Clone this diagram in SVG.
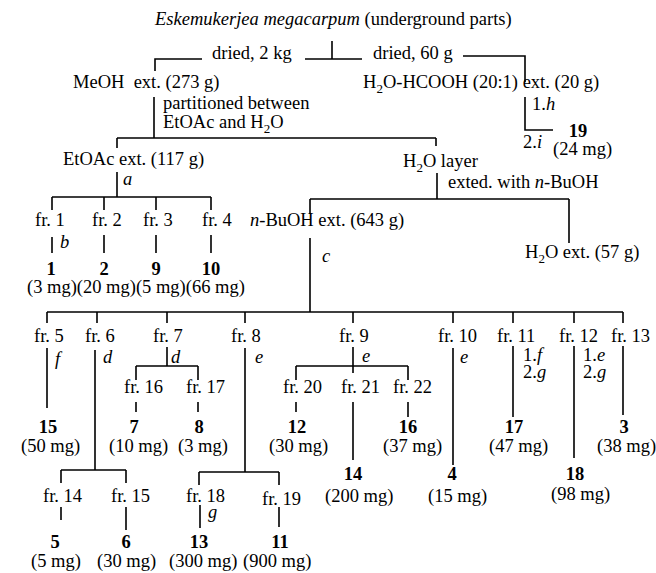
<svg xmlns="http://www.w3.org/2000/svg" width="656" height="573" viewBox="0 0 656 573">
<style>
text{font-family:"Liberation Serif","Times New Roman",serif;font-size:18.5px;fill:#000}
.b{font-weight:bold;text-anchor:middle}
.i{font-style:italic}
.s{font-size:13px}
#connectors path{fill:none;stroke:#000;stroke-width:1.6}
</style>
<rect width="656" height="573" fill="#fff"/>
<g id="connectors">
<path d="M332,41V59M305,59H362M202,59H155V71M463,56H525V82"/>
<path d="M154,97V138M117,138H436M117,138V148M436,138V146M525,97V130H553"/>
<path d="M117,172V197M52,197H211M52,197V210M104,197V210M156,197V210M211,197V210"/>
<path d="M52,237V253M104,235V253M156,235V253M211,235V253"/>
<path d="M437,173V199M310,199H569M569,199V243M310,199V214M310,238V312"/>
<path d="M47,312H623M47,312V323M97,312V323M167,312V323M245,312V323M353,312V323M453,312V323M513,312V323M574,312V323M623,312V323"/>
<path d="M47,348V408M95,350V470M61,470H126M61,470V483M126,470V483M61,507V520M126,507V530"/>
<path d="M167,347V366M136,366H198M136,366V380M198,366V380M136,402V412M198,402V412"/>
<path d="M245,348V472M199,472H279M199,472V485M279,472V485M200,505V528M279,507V527"/>
<path d="M353,347V373M296,366H408M296,366V380M408,366V380M296,402V412M353,402V460M408,402V417"/>
<path d="M453,348V465M513,346V417M574,346V458M623,346V415"/>
</g>
<g id="n-title"><text x="155" y="25"><tspan class="i">Eskemukerjea megacarpum</tspan> (underground parts)</text></g>
<g id="l-dried2kg"><text x="212" y="59">dried, 2 kg</text></g>
<g id="l-dried60g"><text x="373" y="59">dried, 60 g</text></g>
<g id="n-meoh"><text x="73" y="88">MeOH&#160; ext. (273 g)</text></g>
<g id="n-h2ohcooh"><text x="363" y="88">H<tspan class="s" dy="5">2</tspan><tspan dy="-5">O-HCOOH (20:1) ext. (20 g)</tspan></text></g>
<g id="l-partition"><text x="163" y="109">partitioned between</text><text x="163" y="128">EtOAc and H<tspan class="s" dy="5">2</tspan><tspan dy="-5">O</tspan></text></g>
<g id="l-1h"><text x="532" y="110">1.<tspan class="i">h</tspan></text></g>
<g id="n-19"><text x="578" y="137" class="b">19</text><text x="523" y="148">2.<tspan class="i">i</tspan></text><text x="553" y="155">(24 mg)</text></g>
<g id="n-etoac"><text x="63" y="165">EtOAc ext. (117 g)</text></g>
<g id="n-h2olayer"><text x="403" y="167">H<tspan class="s" dy="5">2</tspan><tspan dy="-5">O layer</tspan></text></g>
<g id="l-a"><text x="123" y="185" class="i">a</text></g>
<g id="l-exted"><text x="448" y="188">exted. with <tspan class="i">n</tspan>-BuOH</text></g>
<g id="n-fr1"><text x="35" y="226">fr. 1</text></g>
<g id="n-fr2"><text x="92" y="226">fr. 2</text></g>
<g id="n-fr3"><text x="143" y="226">fr. 3</text></g>
<g id="n-fr4"><text x="202" y="226">fr. 4</text></g>
<g id="n-buoh"><text x="250" y="226"><tspan class="i">n</tspan>-BuOH ext. (643 g)</text></g>
<g id="l-b"><text x="60" y="248" class="i">b</text></g>
<g id="n-h2oext"><text x="525" y="258">H<tspan class="s" dy="5">2</tspan><tspan dy="-5">O ext. (57 g)</tspan></text></g>
<g id="l-c"><text x="322" y="262" class="i">c</text></g>
<g id="n-c1"><text x="51" y="275" class="b">1</text></g>
<g id="n-c2"><text x="104" y="275" class="b">2</text></g>
<g id="n-c9"><text x="156" y="275" class="b">9</text></g>
<g id="n-c10"><text x="211" y="275" class="b">10</text></g>
<g id="l-masses1"><text x="27" y="293">(3 mg)(20 mg)(5 mg)(66 mg)</text></g>
<g id="n-fr5"><text x="34" y="342">fr. 5</text></g>
<g id="n-fr6"><text x="85" y="342">fr. 6</text></g>
<g id="n-fr7"><text x="153" y="342">fr. 7</text></g>
<g id="n-fr8"><text x="231" y="342">fr. 8</text></g>
<g id="n-fr9"><text x="339" y="342">fr. 9</text></g>
<g id="n-fr10"><text x="438" y="342">fr. 10</text></g>
<g id="n-fr11"><text x="497" y="342">fr. 11</text></g>
<g id="n-fr12"><text x="559" y="342">fr. 12</text></g>
<g id="n-fr13"><text x="611" y="342">fr. 13</text></g>
<g id="l-cond2">
<text x="55" y="365" class="i">f</text>
<text x="103" y="363" class="i">d</text>
<text x="171" y="363" class="i">d</text>
<text x="255" y="363" class="i">e</text>
<text x="362" y="362" class="i">e</text>
<text x="460" y="363" class="i">e</text>
<text x="523" y="361">1.<tspan class="i">f</tspan></text>
<text x="523" y="378">2.<tspan class="i">g</tspan></text>
<text x="583" y="361">1.<tspan class="i">e</tspan></text>
<text x="583" y="378">2.<tspan class="i">g</tspan></text>
</g>
<g id="n-fr16"><text x="124" y="393">fr. 16</text></g>
<g id="n-fr17"><text x="186" y="393">fr. 17</text></g>
<g id="n-fr20"><text x="283" y="393">fr. 20</text></g>
<g id="n-fr21"><text x="341" y="393">fr. 21</text></g>
<g id="n-fr22"><text x="393" y="393">fr. 22</text></g>
<g id="n-c15"><text x="48" y="433" class="b">15</text><text x="21" y="452">(50 mg)</text></g>
<g id="n-c7"><text x="134" y="433" class="b">7</text><text x="109" y="452">(10 mg)</text></g>
<g id="n-c8"><text x="199" y="433" class="b">8</text><text x="178" y="452">(3 mg)</text></g>
<g id="n-c12"><text x="297" y="433" class="b">12</text><text x="269" y="452">(30 mg)</text></g>
<g id="n-c16"><text x="408" y="433" class="b">16</text><text x="383" y="452">(37 mg)</text></g>
<g id="n-c17"><text x="514" y="433" class="b">17</text><text x="489" y="452">(47 mg)</text></g>
<g id="n-c3"><text x="624" y="433" class="b">3</text><text x="597" y="452">(38 mg)</text></g>
<g id="n-c14"><text x="353" y="480" class="b">14</text><text x="325" y="502">(200 mg)</text></g>
<g id="n-c4"><text x="452" y="480" class="b">4</text><text x="428" y="502">(15 mg)</text></g>
<g id="n-c18"><text x="575" y="480" class="b">18</text><text x="551" y="500">(98 mg)</text></g>
<g id="n-fr14"><text x="43" y="502">fr. 14</text></g>
<g id="n-fr15"><text x="111" y="502">fr. 15</text></g>
<g id="n-fr18"><text x="186" y="502">fr. 18</text></g>
<g id="n-fr19"><text x="262" y="505">fr. 19</text></g>
<g id="l-g"><text x="208" y="518" class="i">g</text></g>
<g id="n-c5"><text x="55" y="548" class="b">5</text><text x="31" y="567">(5 mg)</text></g>
<g id="n-c6"><text x="126" y="548" class="b">6</text><text x="97" y="567">(30 mg)</text></g>
<g id="n-c13"><text x="199" y="548" class="b">13</text><text x="169" y="567">(300 mg)</text></g>
<g id="n-c11"><text x="280" y="548" class="b">11</text><text x="243" y="567">(900 mg)</text></g>
</svg>
